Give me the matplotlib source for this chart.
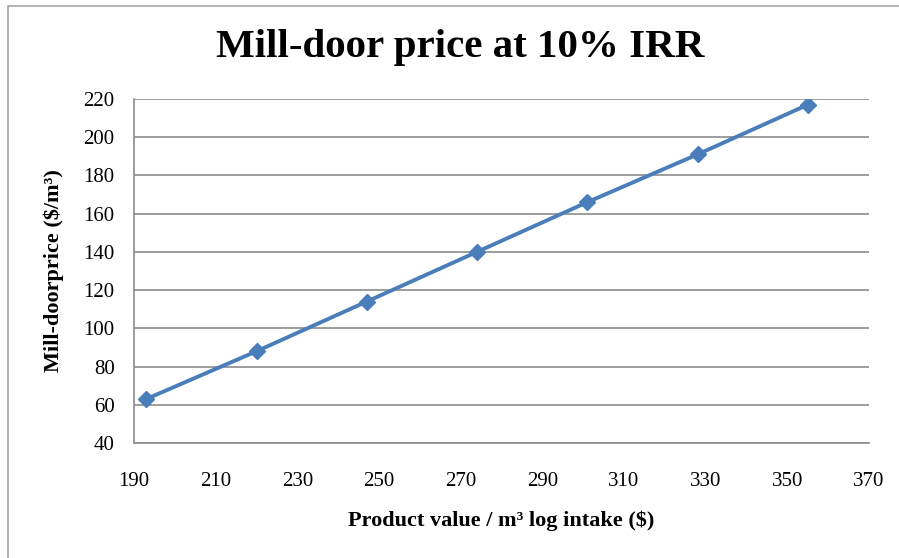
import matplotlib.pyplot as plt
from matplotlib.patches import Rectangle

# product value per m3 log intake vs mill-door price
product_value = [193, 220, 247, 274, 301, 328, 355]
mill_door_price = [63, 88, 114, 140, 166, 191, 217]
x_ticks = list(range(190, 371, 20))
y_ticks = list(range(40, 221, 20))

plt.rcParams['font.family'] = ['Liberation Serif', 'DejaVu Serif']

fig = plt.figure(figsize=(8.99, 5.58), dpi=100)
fig.patches.append(Rectangle((8 / 899, -0.1), 1.0, 1.1 - 6 / 558, transform=fig.transFigure,
                             fill=False, edgecolor='#a6a6a6', linewidth=1.2))
ax = fig.add_axes([134 / 899, 115 / 558, 735 / 899, 344 / 558])

ax.plot(product_value, mill_door_price, color='#4a7ebb', linewidth=2.8,
        marker='D', markersize=8, markeredgecolor='#4a7ebb')

ax.set_xlim(190, 370)
ax.set_ylim(40, 220)
ax.set_xticks(x_ticks)
ax.set_yticks(y_ticks)
ax.tick_params(length=0, labelsize=15)
ax.tick_params(axis='y', pad=14)
ax.tick_params(axis='x', pad=21)
ax.grid(axis='y', color='#8c8c8c', linewidth=1.2)
ax.set_axisbelow(True)
for s in ['top', 'right']:
    ax.spines[s].set_visible(False)
for s in ['left', 'bottom']:
    ax.spines[s].set_color('#8c8c8c')
    ax.spines[s].set_linewidth(1.2)

ax.set_xlabel('Product value / m³ log intake ($)', fontsize=16, fontweight='bold', labelpad=14)
ax.set_ylabel('Mill-doorprice ($/m³)', fontsize=16, fontweight='bold', labelpad=14)
fig.text(460 / 899, 1 - 47 / 558, 'Mill-door price at 10% IRR', fontsize=29.5, fontweight='bold',
         ha='center', va='center')

fig.savefig('out.png', dpi=100)
